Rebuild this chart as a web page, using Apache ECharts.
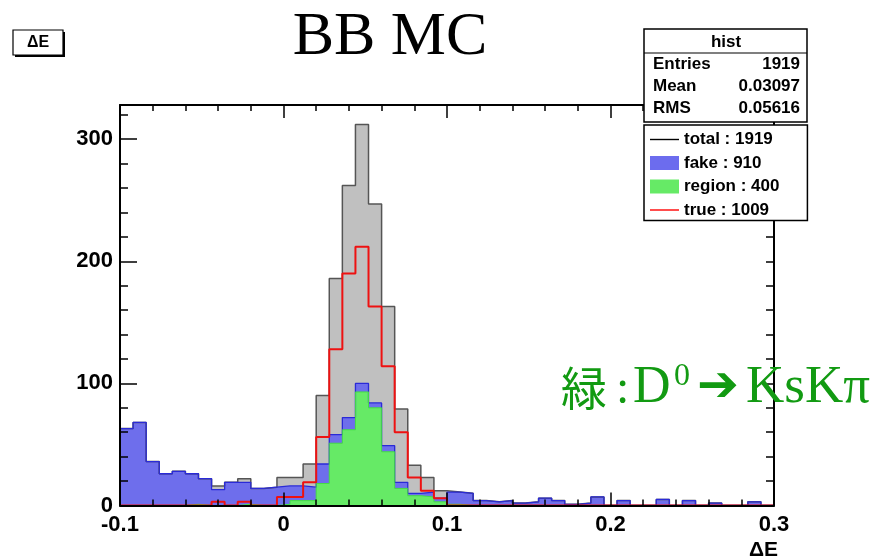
<!DOCTYPE html>
<html>
<head>
<meta charset="utf-8">
<script src="https://cdn.jsdelivr.net/npm/echarts@6/dist/echarts.min.js"></script>
<style>
html,body{margin:0;padding:0;background:#fff;}
#chart{width:877px;height:560px;}
</style>
</head>
<body>
<div id="chart"></div>
<script>
// ---- histogram definition (bins of ΔE) ----
const binLow = -0.1;
const binWidth = 0.008;
const nBins = 50;

// ---- counts per bin ----
const totalCounts  = [63,68,36,26,28,26,22,16,19,22,14,15,23,23,34,90,186,262,312,247,163,79,33,23,12,11,10,4,3,4,2,3,6,4,1,2,7,0,4,0,0,5,0,4,0,2,0,0,3,0];
const fakeCounts   = [63,68,36,26,28,26,22,13,19,19,14,15,16,16,15,34,58,72,100,84,49,19,10,11,6,11,10,4,3,4,2,3,6,4,1,2,7,0,4,0,0,5,0,4,0,2,0,0,3,0];
const regionCounts = [0,0,0,0,0,1,0,0,0,1,0,0,1,4,4,18,51,62,93,80,44,14,8,7,3,1,0,0,0,0,0,0,0,0,0,0,0,0,0,0,0,0,0,0,0,0,0,0,0,0];
const trueCounts   = [0,0,0,0,0,0,0,3,0,3,0,0,7,7,19,56,128,190,212,163,114,60,23,12,6,0,0,0,0,0,0,0,0,0,0,0,0,0,0,0,0,0,0,0,0,0,0,0,0,0];

// ---- legend / stats texts ----
const legendNames = ['total : 1919', 'fake : 910', 'region : 400', 'true : 1009'];
const statsTitle = 'hist';
const statsLabels = ['Entries', 'Mean', 'RMS'];
const statsValues = ['1919', '0.03097', '0.05616'];

// ---- axis settings ----
const xMin = -0.1, xMax = 0.3, xStep = 0.1;
const yMin = 0, yMax = 328, yStep = 100;

const edges = [];
for (let i = 0; i <= nBins; i++) edges.push(+(binLow + i * binWidth).toFixed(4));

function stepData(counts) {
  const d = [[edges[0], 0]];
  counts.forEach((c, i) => d.push([edges[i], c]));
  d.push([edges[nBins], counts[nBins - 1]]);
  d.push([edges[nBins], 0]);
  return d;
}

const FONT = 'Liberation Sans';
const GREEN = '#129a12';
const chart = echarts.init(document.getElementById('chart'), null, {renderer: 'canvas'});

const baseX = {
  type: 'value', min: xMin, max: xMax, interval: xStep, z: 3,
  axisLine: {show: true, onZero: false, lineStyle: {color: '#000', width: 2}},
  splitLine: {show: false}
};
const baseY = {
  type: 'value', min: yMin, max: yMax, interval: yStep, z: 3,
  axisLine: {show: true, onZero: false, lineStyle: {color: '#000', width: 2}},
  splitLine: {show: false}
};

function txt(x, y, text, extra) {
  return {type: 'text', z: 102, x: x, y: y,
    style: Object.assign({text: text, fontFamily: FONT, fontWeight: 'bold', fontSize: 17, fill: '#000',
      align: 'left', verticalAlign: 'middle'}, extra || {})};
}

const option = {
  animation: false,
  backgroundColor: '#fff',
  grid: {left: 120, right: 103, top: 105, bottom: 54.5, show: false},
  xAxis: [
    Object.assign({}, baseX, {
      position: 'bottom',
      axisTick: {show: true, inside: true, length: 13, lineStyle: {color: '#000', width: 1.5}},
      minorTick: {show: true, splitNumber: 5, length: 6, lineStyle: {color: '#000', width: 1.5}},
      axisLabel: {show: true, margin: 8, color: '#000', fontFamily: FONT, fontWeight: 'bold', fontSize: 22,
        formatter: v => String(+v.toFixed(1))}
    }),
    Object.assign({}, baseX, {
      position: 'top',
      axisTick: {show: true, inside: true, length: 13, lineStyle: {color: '#000', width: 1.5}},
      minorTick: {show: true, splitNumber: 5, length: 6, lineStyle: {color: '#000', width: 1.5}},
      axisLabel: {show: false}
    })
  ],
  yAxis: [
    Object.assign({}, baseY, {
      position: 'left',
      axisTick: {show: true, inside: true, length: 17, lineStyle: {color: '#000', width: 1.5}},
      minorTick: {show: true, splitNumber: 5, length: 8, lineStyle: {color: '#000', width: 1.5}},
      axisLabel: {show: true, margin: 7, color: '#000', fontFamily: FONT, fontWeight: 'bold', fontSize: 22,
        showMaxLabel: false}
    }),
    Object.assign({}, baseY, {
      position: 'right',
      axisTick: {show: true, inside: true, length: 8, lineStyle: {color: '#000', width: 1.5}},
      minorTick: {show: true, splitNumber: 5, length: 8, lineStyle: {color: '#000', width: 1.5}},
      axisLabel: {show: false}
    })
  ],
  legend: {
    orient: 'vertical', left: 644, top: 125, z: 6,
    backgroundColor: '#fff', borderColor: '#000', borderWidth: 1.5,
    padding: [6, 28, 2, 6], itemGap: 6.5, itemWidth: 29, itemHeight: 14,
    textStyle: {fontFamily: FONT, fontWeight: 'bold', fontSize: 17, color: '#000'},
    selectedMode: false,
    data: [
      {name: legendNames[0], icon: 'path://M0,6.3 L29,6.3 L29,7.7 L0,7.7 Z', itemStyle: {color: '#000'}},
      {name: legendNames[1], icon: 'rect', itemStyle: {color: '#6c6cee'}},
      {name: legendNames[2], icon: 'rect', itemStyle: {color: '#66ea66'}},
      {name: legendNames[3], icon: 'path://M0,6.3 L29,6.3 L29,7.7 L0,7.7 Z', itemStyle: {color: '#ff0000'}}
    ]
  },
  series: [
    {
      name: legendNames[0], type: 'line', step: 'end', data: stepData(totalCounts),
      symbol: 'none', silent: true, z: 2,
      itemStyle: {color: '#000'},
      lineStyle: {color: '#555555', width: 1.5},
      areaStyle: {color: '#c0c0c0', opacity: 1}
    },
    {
      name: legendNames[1], type: 'line', step: 'end', data: stepData(fakeCounts),
      symbol: 'none', silent: true, z: 2,
      itemStyle: {color: '#6c6cee'},
      lineStyle: {color: '#2a2ad8', width: 1.3},
      areaStyle: {color: '#6e6eec', opacity: 1}
    },
    {
      name: legendNames[2], type: 'line', step: 'end', data: stepData(regionCounts),
      symbol: 'none', silent: true, z: 2,
      itemStyle: {color: '#66ea66'},
      lineStyle: {color: '#44dd44', width: 1},
      areaStyle: {color: '#66ea66', opacity: 1}
    },
    {
      name: legendNames[3], type: 'line', step: 'end', data: stepData(trueCounts),
      symbol: 'none', silent: true, z: 2,
      itemStyle: {color: '#ff0000'},
      lineStyle: {color: '#ee1111', width: 2}
    }
  ],
  graphic: [
    // title
    {type: 'text', z: 100, x: 390, y: 38,
      style: {text: 'BB MC', fontFamily: 'Liberation Serif', fontSize: 62, fill: '#000',
        align: 'center', verticalAlign: 'middle'}},
    // ΔE box top-left
    {type: 'rect', z: 100, shape: {x: 15, y: 32, width: 50, height: 25}, style: {fill: '#000'}},
    {type: 'rect', z: 101, shape: {x: 13, y: 30, width: 50, height: 25}, style: {fill: '#fff', stroke: '#000', lineWidth: 1.2}},
    txt(38, 43, 'ΔE', {fontSize: 16, align: 'center'}),
    // stats box
    {type: 'rect', z: 100, shape: {x: 644, y: 29, width: 163, height: 93}, style: {fill: '#fff', stroke: '#000', lineWidth: 1.5}},
    {type: 'line', z: 101, shape: {x1: 644, y1: 53, x2: 807, y2: 53}, style: {stroke: '#000', lineWidth: 1.2}},
    txt(726, 42, statsTitle, {align: 'center'}),
    txt(653, 64, statsLabels[0]),
    txt(653, 86, statsLabels[1]),
    txt(653, 108, statsLabels[2]),
    txt(800, 64, statsValues[0], {align: 'right'}),
    txt(800, 86, statsValues[1], {align: 'right'}),
    txt(800, 108, statsValues[2], {align: 'right'}),
    // x axis title
    txt(778, 550, 'ΔE', {fontSize: 21, align: 'right'}),
    // green annotation
    txt(561, 388, '緑', {fontFamily: 'Noto Sans CJK JP', fontWeight: 'normal', fontSize: 46, fill: GREEN}),
    txt(616, 390, ':', {fontFamily: 'Liberation Serif', fontWeight: 'normal', fontSize: 48, fill: GREEN}),
    txt(633, 388, 'D', {fontFamily: 'Liberation Serif', fontWeight: 'normal', fontSize: 52, fill: GREEN}),
    txt(674, 377, '0', {fontFamily: 'Liberation Serif', fontWeight: 'normal', fontSize: 32, fill: GREEN}),
    txt(697, 388, '➔', {fontFamily: 'DejaVu Sans', fontWeight: 'normal', fontSize: 50, fill: GREEN}),
    txt(746, 388, 'KsKπ', {fontFamily: 'Liberation Serif', fontWeight: 'normal', fontSize: 53, fill: GREEN})
  ]
};

chart.setOption(option);
</script>
</body>
</html>
